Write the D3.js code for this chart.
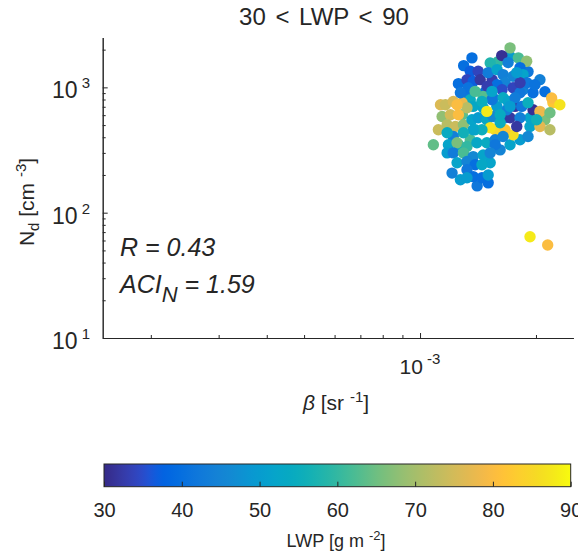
<!DOCTYPE html>
<html><head><meta charset="utf-8">
<script src="https://cdn.jsdelivr.net/npm/d3@7"></script>
<style>
body{margin:0;background:#fff;}
text{font-family:"Liberation Sans",Arial,Helvetica,sans-serif;fill:#262626;}
</style></head>
<body><svg id="c" width="578" height="555"></svg>
<script>
// beta in units of 1e-3 sr^-1
const betaE3 = [1.258,1.311,1.713,1.595,1.907,2.048,1.713,1.614,1.407,1.273,1.503,1.116,1.130,1.350,1.476,1.930,2.213,2.110,1.818,1.521,1.663,1.539,1.390,1.258,1.765,1.851,1.350,1.567,1.288,
  1.713,1.630,1.800,1.892,1.364,1.298,1.521,1.693,1.818,1.350,1.416,1.324,1.374,1.334,1.433,1.503,1.585,1.643,1.744,1.851,1.663,1.585,1.494,1.459,1.548,1.633,1.744,1.818,1.965,2.110,2.196,2.307,1.965,2.048,2.174,1.837,1.713,1.818,1.930,2.048,2.174,1.744,1.663,1.907,1.680,1.583,1.537,1.459,1.374,1.164,1.220,1.286,1.324,1.141,1.199,1.258,1.176,1.235,1.296,1.364,1.416,1.491,1.548,1.614,1.521,1.448,1.374,1.296,1.220,1.176,1.083,1.185,1.248,1.324,1.405,1.491,1.567,1.567,1.176,1.220,1.296,1.374,1.459,1.521,1.248,1.324,1.390,1.448,1.211,1.324,1.374,1.448,1.503,1.324,1.643,1.693,1.765,1.896,1.988,1.818,1.907,1.614,1.448,1.390,1.537,1.273,1.713,2.008,1.783,1.643,1.248,1.491,1.783,1.930,2.145];
const ndVals = [1071,874,1760,1606,1336,1152,348,317,163.6,183,173,459,727,382,924,573,755,552,382,250,573,1152,459,348,705,958,797,459,605,
  2066,1793,1719,1615,1719,1491,1567,1577,1438,1343,1343,1152,1116,994,1152,1311,1386,1264,1225,1264,1090,1051,1019,847,827,958,994,907,907,924,822,727,663,643,628,705,573,573,487,487,459,418,459,405,663,705,797,688,705,727,772,755,688,586,605,605,503,487,503,552,573,552,586,522,476,459,459,434,405,434,348,348,361,337,361,361,382,348,300,300,300,280,289,300,250,256,241,241,207,220,194,190,200,190,827,772,827,1090,1051,1090,755,605,772,929,929,907,705,552,487,405,727,643,1312,64.3,55.2];
const lwpVals = [40,42,50,60,42,44,52,45,42,50,40,74,76,62,40,52,82,66,50,52,42,33,54,55,32,44,55,85,64,
  66,31,62,68,40,40,58,44,40,37,34,34,37,41,32,43,52,44,45,52,45,40,33,63,42,35,34,42,40,40,80,87,31,78,65,42,32,44,52,77,72,86,82,46,44,50,42,52,53,74,76,78,72,68,75,80,72,74,68,52,50,53,46,55,87,55,52,56,44,54,64,52,66,60,53,54,44,42,50,43,62,46,52,45,52,45,40,53,44,42,40,40,50,50,54,52,43,42,41,33,55,54,55,62,52,42,50,56,32,45,80,88,50,88,80];

const yMajor = [10,100,1000], yMajorExp = ["1","2","3"];
const yMinor = [20,30,40,50,60,70,80,90,200,300,400,500,600,700,800,900,2000];
const xMajor = [1e-3], xMajorExp = ["-3"];
const xMinor = [2e-4,3e-4,4e-4,5e-4,6e-4,7e-4,8e-4,9e-4,2e-3];
const cbTicks = [30,40,50,60,70,80,90];

const parula = [[0.2081,0.1663,0.5292],[0.2116,0.1898,0.5777],[0.2123,0.2138,0.6270],[0.2081,0.2386,0.6771],[0.1959,0.2645,0.7279],[0.1707,0.2919,0.7792],[0.1253,0.3242,0.8303],[0.0591,0.3598,0.8683],[0.0117,0.3875,0.8820],[0.0060,0.4086,0.8828],[0.0165,0.4266,0.8786],[0.0329,0.4430,0.8720],[0.0498,0.4586,0.8641],[0.0629,0.4737,0.8554],[0.0723,0.4887,0.8467],[0.0779,0.5040,0.8384],[0.0793,0.5200,0.8312],[0.0749,0.5375,0.8263],[0.0641,0.5570,0.8240],[0.0488,0.5772,0.8228],[0.0343,0.5966,0.8199],[0.0265,0.6137,0.8135],[0.0239,0.6287,0.8038],[0.0231,0.6418,0.7913],[0.0228,0.6535,0.7768],[0.0267,0.6642,0.7607],[0.0384,0.6743,0.7436],[0.0590,0.6838,0.7254],[0.0843,0.6928,0.7062],[0.1133,0.7015,0.6859],[0.1453,0.7098,0.6646],[0.1801,0.7177,0.6424],[0.2178,0.7250,0.6193],[0.2586,0.7317,0.5954],[0.3022,0.7376,0.5712],[0.3482,0.7424,0.5473],[0.3953,0.7459,0.5244],[0.4420,0.7481,0.5033],[0.4871,0.7491,0.4840],[0.5300,0.7491,0.4661],[0.5709,0.7485,0.4494],[0.6099,0.7473,0.4337],[0.6473,0.7456,0.4188],[0.6834,0.7435,0.4044],[0.7184,0.7411,0.3905],[0.7525,0.7384,0.3768],[0.7858,0.7356,0.3633],[0.8185,0.7327,0.3498],[0.8507,0.7299,0.3360],[0.8824,0.7274,0.3217],[0.9139,0.7258,0.3063],[0.9450,0.7261,0.2886],[0.9739,0.7314,0.2666],[0.9938,0.7455,0.2403],[0.9990,0.7653,0.2164],[0.9955,0.7861,0.1967],[0.9880,0.8066,0.1794],[0.9789,0.8271,0.1633],[0.9697,0.8481,0.1475],[0.9626,0.8705,0.1309],[0.9589,0.8949,0.1132],[0.9598,0.9218,0.0948],[0.9661,0.9514,0.0755],[0.9763,0.9831,0.0538]];
const parulaColors = parula.map(c => d3.rgb(c[0]*255,c[1]*255,c[2]*255).formatHex());
const parulaInterp = d3.piecewise(d3.interpolateRgb, parulaColors);

const svg = d3.select("#c");
const axisColor = "#262626";
const x = d3.scaleLog().domain([1.5e-4, 2.5e-3]).range([102.7, 573.3]);
const y = d3.scaleLog().domain([10, 2500]).range([338, 37.5]);
const color = d3.scaleSequential(parulaInterp).domain([30, 90]);

// points
const pts = betaE3.map((b,i)=>({b:b*1e-3, n:ndVals[i], l:lwpVals[i]}));
svg.append("g").selectAll("circle").data(pts).join("circle")
  .attr("cx", d=>x(d.b)).attr("cy", d=>y(d.n)).attr("r", 5.7)
  .attr("fill", d=>color(d.l));

// axes
function styleAxis(g){
  g.selectAll("path,line").attr("stroke", axisColor).attr("stroke-width", 1);
}
svg.append("g").attr("transform","translate(102.7,0)")
  .call(d3.axisLeft(y).tickValues(yMinor).tickSize(-3).tickSizeOuter(0).tickFormat(""))
  .call(styleAxis);
svg.append("g").attr("transform","translate(102.7,0)")
  .call(d3.axisLeft(y).tickValues(yMajor).tickSize(-5).tickSizeOuter(0).tickFormat(""))
  .call(styleAxis);
svg.append("g").attr("transform","translate(0,338)")
  .call(d3.axisBottom(x).tickValues(xMinor).tickSize(-3).tickSizeOuter(0).tickFormat(""))
  .call(styleAxis);
svg.append("g").attr("transform","translate(0,338)")
  .call(d3.axisBottom(x).tickValues(xMajor).tickSize(-5).tickSizeOuter(0).tickFormat(""))
  .call(styleAxis);

// y tick labels
yMajor.forEach((v,i)=>{
  const t = svg.append("text").attr("x", 90).attr("y", y(v)+11).attr("text-anchor","end").attr("font-size",23);
  t.append("tspan").text("10");
  t.append("tspan").attr("dy",-10).attr("font-size",15).text(" " + yMajorExp[i]);
});
xMajor.forEach((v,i)=>{
  const t = svg.append("text").attr("x", x(v)).attr("y", 374).attr("text-anchor","middle").attr("font-size",21);
  t.append("tspan").text("10");
  t.append("tspan").attr("dy",-10).attr("font-size",15).text(" " + xMajorExp[i]);
});

// title
svg.append("text").attr("x",324).attr("y",25).attr("text-anchor","middle").attr("font-size",24)
  .attr("word-spacing",3).text("30 < LWP < 90");

// axis labels
const xl = svg.append("text").attr("x",336).attr("y",410).attr("text-anchor","middle").attr("font-size",21);
xl.append("tspan").attr("font-style","italic").text("β");
xl.append("tspan").text(" [sr ");
xl.append("tspan").attr("dy",-8).attr("font-size",15).text("-1");
xl.append("tspan").attr("dy",8).text("]");

const yl = svg.append("text").attr("transform","translate(34,202) rotate(-90)").attr("text-anchor","middle").attr("font-size",21);
yl.append("tspan").text("N");
yl.append("tspan").attr("dy",5).attr("font-size",15).text("d");
yl.append("tspan").attr("dy",-5).text(" [cm ");
yl.append("tspan").attr("dy",-8).attr("font-size",15).text("-3");
yl.append("tspan").attr("dy",8).text("]");

// annotations
svg.append("text").attr("x",120).attr("y",256).attr("font-size",25).attr("font-style","italic").text("R = 0.43");
const aci = svg.append("text").attr("x",120).attr("y",293).attr("font-size",25).attr("font-style","italic");
aci.append("tspan").text("ACI");
aci.append("tspan").attr("dy",9).attr("font-size",22).text("N");
aci.append("tspan").attr("dy",-9).text(" = 1.59");

// colorbar
const cbX = d3.scaleLinear().domain([30,90]).range([104, 570.7]);
const cbTop = 464, cbBot = 486.7;
const grad = svg.append("defs").append("linearGradient").attr("id","pg").attr("x1","0%").attr("x2","100%").attr("y1","0%").attr("y2","0%");
parulaColors.forEach((c,i)=>grad.append("stop").attr("offset",(i/(parulaColors.length-1)*100)+"%").attr("stop-color",c));
svg.append("rect").attr("x",cbX(30)).attr("y",cbTop).attr("width",cbX(90)-cbX(30)).attr("height",cbBot-cbTop)
  .attr("fill","url(#pg)").attr("stroke",axisColor).attr("stroke-width",1);
const cbAxis = svg.append("g").attr("transform",`translate(0,${cbBot})`)
  .call(d3.axisBottom(cbX).tickValues(cbTicks).tickSize(-5).tickSizeOuter(0).tickPadding(16).tickFormat(d3.format("d")));
cbAxis.select(".domain").remove();
cbAxis.selectAll("line").attr("stroke",axisColor);
cbAxis.selectAll("text").attr("font-size",20).attr("fill",axisColor).attr("font-family","Liberation Sans, Arial, sans-serif");

const cl = svg.append("text").attr("x",336).attr("y",547).attr("text-anchor","middle").attr("font-size",18);
cl.append("tspan").text("LWP [g m ");
cl.append("tspan").attr("dy",-7).attr("font-size",13).text("-2");
cl.append("tspan").attr("dy",7).text("]");
</script></body></html>
